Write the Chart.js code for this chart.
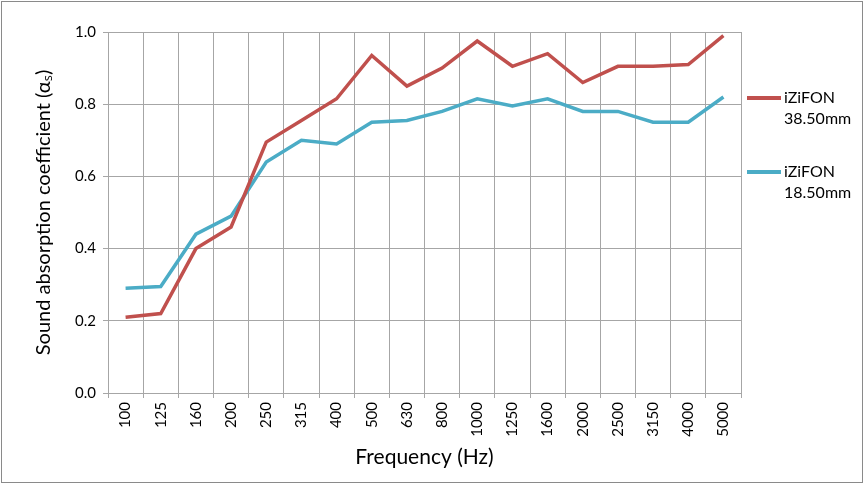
<!DOCTYPE html>
<html>
<head>
<meta charset="utf-8">
<script src="https://cdn.jsdelivr.net/npm/chart.js@4/dist/chart.umd.min.js"></script>
<style>
  html, body { margin: 0; padding: 0; background: #fff; }
  #wrap { width: 864px; height: 484px; position: relative; }
</style>
</head>
<body>
<div id="wrap"><canvas id="c" width="864" height="484"></canvas></div>
<script>
const categories = ["100","125","160","200","250","315","400","500","630","800","1000","1250","1600","2000","2500","3150","4000","5000"];
const seriesNames = [["iZiFON","38.50mm"], ["iZiFON","18.50mm"]];
const series38 = [0.21,0.22,0.40,0.46,0.695,0.755,0.815,0.935,0.85,0.90,0.975,0.905,0.94,0.86,0.905,0.905,0.91,0.99];
const series18 = [0.29,0.295,0.44,0.49,0.64,0.70,0.69,0.75,0.755,0.78,0.815,0.795,0.815,0.78,0.78,0.75,0.75,0.82];
const yTicks = [0,0.2,0.4,0.6,0.8,1.0];
const colors = ["#C0504D", "#4BACC6"];
const FONT = "Lato, 'Open Sans', 'Liberation Sans', sans-serif";
const GRID = "#A6A6A6";

const bgBorder = {
  id: 'bgBorder',
  beforeDraw(chart) {
    const ctx = chart.ctx;
    ctx.save();
    ctx.fillStyle = '#fff';
    ctx.fillRect(0, 0, chart.width, chart.height);
    ctx.strokeStyle = '#8A8A8A';
    ctx.lineWidth = 1;
    ctx.strokeRect(1.5, 1.5, chart.width - 3, chart.height - 3);
    ctx.restore();
  }
};

const sideLegend = {
  id: 'sideLegend',
  afterDraw(chart) {
    const ctx = chart.ctx;
    const tops = [98, 172];
    ctx.save();
    chart.data.datasets.forEach((ds, i) => {
      const y = tops[i];
      ctx.strokeStyle = ds.borderColor;
      ctx.lineWidth = 4;
      ctx.beginPath();
      ctx.moveTo(747, y);
      ctx.lineTo(781, y);
      ctx.stroke();
      ctx.fillStyle = '#000';
      ctx.font = "16px " + FONT;
      ctx.textBaseline = 'middle';
      ctx.textAlign = 'left';
      const lines = ds.label;
      lines.forEach((t, k) => ctx.fillText(t, 784, y + k * 21));
    });
    ctx.restore();
  }
};

new Chart(document.getElementById('c'), {
  type: 'line',
  data: {
    labels: categories,
    datasets: [
      { label: seriesNames[0], data: series38, borderColor: colors[0], backgroundColor: colors[0], borderWidth: 3.5, pointRadius: 0, tension: 0, fill: false },
      { label: seriesNames[1], data: series18, borderColor: colors[1], backgroundColor: colors[1], borderWidth: 3.5, pointRadius: 0, tension: 0, fill: false }
    ]
  },
  options: {
    responsive: false,
    animation: false,
    devicePixelRatio: 1,
    layout: { padding: { left: 0, right: 123, top: 32, bottom: 0 } },
    plugins: { legend: { display: false }, tooltip: { enabled: false } },
    scales: {
      x: {
        type: 'category',
        offset: true,
        grid: { display: true, offset: true, color: GRID, lineWidth: 1, drawTicks: true, tickLength: 5, tickColor: GRID },
        border: { display: true, color: GRID, width: 1 },
        ticks: { color: '#000', font: { family: FONT, size: 15 }, minRotation: 90, maxRotation: 90, padding: 4, autoSkip: false },
        title: { display: true, text: 'Frequency (Hz)', color: '#000', font: { family: FONT, size: 21 }, padding: { top: 0, bottom: 14 } },
        afterFit(scale) { scale.height = 91; }
      },
      y: {
        min: 0, max: 1,
        afterBuildTicks(scale) { scale.ticks = yTicks.map(v => ({ value: v })); },
        grid: { display: true, color: GRID, lineWidth: 1, drawTicks: true, tickLength: 5, tickColor: GRID },
        border: { display: true, color: GRID, width: 1 },
        ticks: { color: '#000', font: { family: FONT, size: 15 }, padding: 7, callback: v => Number(v).toFixed(1) },
        title: { display: true, text: 'Sound absorption coefficient (αₛ)', color: '#000', font: { family: FONT, size: 20 }, padding: { top: 32, bottom: 0 } },
        afterFit(scale) { scale.width = 108; }
      }
    }
  },
  plugins: [bgBorder, sideLegend]
});
</script>
</body>
</html>
